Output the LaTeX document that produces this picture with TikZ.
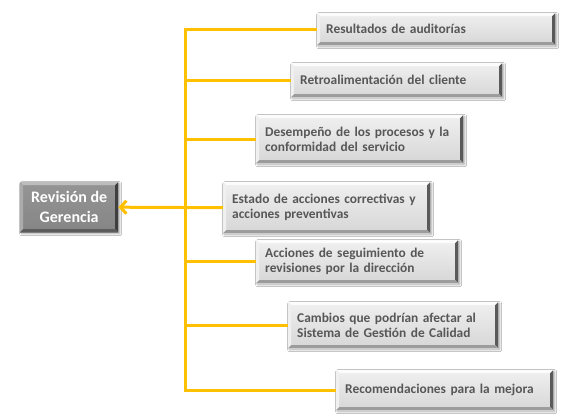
\documentclass[tikz,border=0pt]{standalone}
\usepackage{fontspec}
\setmainfont{Carlito}
\usetikzlibrary{arrows.meta,shadows.blur,calc}
\definecolor{conn}{HTML}{FFC000}
\definecolor{txt}{HTML}{575757}
\definecolor{ltop}{HTML}{FCFCFC}
\definecolor{lleft}{HTML}{F0F0F0}
\definecolor{lright}{HTML}{5A5A5A}
\definecolor{lbot}{HTML}{9C9C9C}
\definecolor{lfaceA}{HTML}{F0F0F0}
\definecolor{lfaceB}{HTML}{D6D6D6}
\definecolor{dtop}{HTML}{BDBDBD}
\definecolor{dleft}{HTML}{ABABAB}
\definecolor{dright}{HTML}{3F3F3F}
\definecolor{dbot}{HTML}{5C5C5C}
\definecolor{dfaceA}{HTML}{959595}
\definecolor{dfaceB}{HTML}{858585}
\newcommand{\bevelpic}[4]{%
  \fill[#1] (path picture bounding box.north west) -- (path picture bounding box.north east)
    -- ([shift={(-3pt,-3pt)}]path picture bounding box.north east) -- ([shift={(3pt,-3pt)}]path picture bounding box.north west) -- cycle;
  \fill[#2] (path picture bounding box.north west) -- (path picture bounding box.south west)
    -- ([shift={(3pt,3pt)}]path picture bounding box.south west) -- ([shift={(3pt,-3pt)}]path picture bounding box.north west) -- cycle;
  \fill[#3] (path picture bounding box.north east) -- (path picture bounding box.south east)
    -- ([shift={(-3pt,3pt)}]path picture bounding box.south east) -- ([shift={(-3pt,-3pt)}]path picture bounding box.north east) -- cycle;
  \fill[#4] (path picture bounding box.south west) -- (path picture bounding box.south east)
    -- ([shift={(-3pt,3pt)}]path picture bounding box.south east) -- ([shift={(3pt,3pt)}]path picture bounding box.south west) -- cycle;
}
\tikzset{
  shad/.style={blur shadow={shadow xshift=1.5pt, shadow yshift=-1.5pt, shadow blur radius=2pt, shadow opacity=35}},
  item/.style={shad, anchor=north west, inner xsep=9pt, inner ysep=0pt, align=left,
    top color=lfaceA, bottom color=lfaceB, text=txt,
    font=\fontsize{13.4}{15}\selectfont\bfseries,
    path picture={\bevelpic{ltop}{lleft}{lright}{lbot}}},
  mainbox/.style={shad, anchor=north west, inner sep=0pt, align=center,
    top color=dfaceA, bottom color=dfaceB, text=white,
    font=\fontsize{16}{20}\selectfont\bfseries,
    path picture={\bevelpic{dtop}{dleft}{dright}{dbot}}},
  link/.style={draw=conn, line width=3pt, line join=miter},
}
\begin{document}
\begin{tikzpicture}[x=1pt,y=-1pt]
\useasboundingbox[fill=white] (0,0) rectangle (579,419);
\node[mainbox, minimum width=98pt, minimum height=50pt] (main) at (20,182) {Revisión de\\Gerencia};
\node[item, text width=220pt, minimum height=32pt] (b1) at (317,13) {Resultados de auditorías};
\node[item, text width=193pt, minimum height=34pt] (b2) at (291,63) {Retroalimentación del cliente};
\node[item, text width=189pt, minimum height=48pt] (b3) at (256,115) {Desempeño de los procesos y la\\conformidad del servicio};
\node[item, text width=189pt, minimum height=51pt] (b4) at (223,182) {Estado de acciones correctivas y\\acciones preventivas};
\node[item, text width=184pt, minimum height=43pt] (b5) at (256,240) {Acciones de seguimiento de\\revisiones por la dirección};
\node[item, text width=192pt, minimum height=46pt] (b6) at (288,302) {Cambios que podrían afectar al\\Sistema de Gestión de Calidad};
\node[item, text width=199pt, minimum height=40pt] (b7) at (336,370) {Recomendaciones para la mejora};
\coordinate (spine) at (185,0);
\draw[link] (b1.west) -- (b1.west -| spine) -- (b7.west -| spine) -- (b7.west);
\draw[link] (b2.west) -- (b2.west -| spine);
\draw[link] (b3.west) -- (b3.west -| spine);
\draw[link] (b5.west) -- (b5.west -| spine);
\draw[link] (b6.west) -- (b6.west -| spine);
\draw[link, -{Straight Barb[length=6pt,width=13pt]}] (b4.west) -- (main.east);
\end{tikzpicture}
\end{document}
